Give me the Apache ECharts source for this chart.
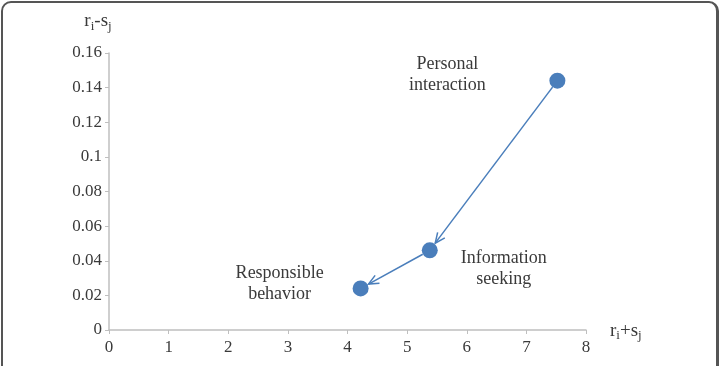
<!DOCTYPE html>
<html>
<head>
<meta charset="utf-8">
<script src="https://cdn.jsdelivr.net/npm/echarts@6/dist/echarts.min.js"></script>
<style>
  html, body { margin: 0; padding: 0; background: #fff; }
  #chart { position: absolute; left: 0; top: 0; width: 719px; height: 366px; }
  #frame {
    position: absolute; left: 1px; top: 1px; width: 713px; height: 390px;
    border: 2px solid #555; border-right-width: 3px; border-radius: 10px;
    pointer-events: none;
  }
</style>
</head>
<body>
<div id="chart"></div>
<div id="frame"></div>
<script>
// 数据
const names = ['Personal\ninteraction', 'Information\nseeking', 'Responsible\nbehavior'];
const xValues = [7.52, 5.38, 4.22];   // r_i + s_j
const yValues = [0.144, 0.046, 0.024]; // r_i - s_j
const xTicks = [0, 1, 2, 3, 4, 5, 6, 7, 8];
const yTicks = [0, 0.02, 0.04, 0.06, 0.08, 0.1, 0.12, 0.14, 0.16];

// 标签偏移 (布局)
const labelOffsets = [[-110, -6], [74, 18], [-81, -5]];

const FONT = '"Liberation Serif", "Times New Roman", serif';
const TEXT = '#3a3a3a';
const AXIS = '#bfbfbf';
const BLUE = '#4a7ebb';
const R = 8;

const subRich = {
  m: { fontFamily: FONT, fontSize: 19, color: TEXT, verticalAlign: 'top', lineHeight: 21 },
  s: { fontFamily: FONT, fontSize: 13, color: TEXT, verticalAlign: 'bottom', lineHeight: 21 }
};

// 箭头: 依次连接相邻点
const arrows = [];
for (let i = 0; i < xValues.length - 1; i++) {
  arrows.push([xValues[i], yValues[i], xValues[i + 1], yValues[i + 1]]);
}

const renderArrow = (params, api) => {
  const p1 = api.coord([api.value(0), api.value(1)]);
  const p2 = api.coord([api.value(2), api.value(3)]);
  const dx = p2[0] - p1[0], dy = p2[1] - p1[1];
  const len = Math.sqrt(dx * dx + dy * dy);
  const ux = dx / len, uy = dy / len;
  const s = [p1[0] + ux * R, p1[1] + uy * R];
  const e = [p2[0] - ux * (R + 1), p2[1] - uy * (R + 1)];
  const ang = Math.atan2(dy, dx);
  const head = 11, spread = 0.42;
  const h1 = [e[0] - head * Math.cos(ang - spread), e[1] - head * Math.sin(ang - spread)];
  const h2 = [e[0] - head * Math.cos(ang + spread), e[1] - head * Math.sin(ang + spread)];
  const style = { stroke: BLUE, lineWidth: 1.5, fill: null };
  return {
    type: 'group',
    children: [
      { type: 'line', shape: { x1: s[0], y1: s[1], x2: e[0], y2: e[1] }, style },
      { type: 'polyline', shape: { points: [h1, e, h2] }, style }
    ]
  };
};

const chart = echarts.init(document.getElementById('chart'));
chart.setOption({
  animation: false,
  grid: { left: 109, right: 133, top: 53, bottom: 36 },
  xAxis: {
    type: 'value', min: xTicks[0], max: xTicks[xTicks.length - 1], interval: 1,
    splitLine: { show: false },
    axisLine: { lineStyle: { color: AXIS, width: 1.5 } },
    axisTick: { show: true, length: 4, lineStyle: { color: AXIS } },
    axisLabel: { fontFamily: FONT, fontSize: 17, color: TEXT, margin: 9 },
    name: '{m|r}{s|i}{m|+s}{s|j}',
    nameLocation: 'end', nameGap: 24,
    nameTextStyle: { rich: subRich, padding: [4, 0, 0, 0] }
  },
  yAxis: {
    type: 'value', min: yTicks[0], max: yTicks[yTicks.length - 1], interval: 0.02,
    splitLine: { show: false },
    axisLine: { show: true, lineStyle: { color: AXIS, width: 1.5 } },
    axisTick: { show: true, length: 4, lineStyle: { color: AXIS } },
    axisLabel: { fontFamily: FONT, fontSize: 17, color: TEXT, margin: 7 },
    name: '{m|r}{s|i}{m|-s}{s|j}',
    nameLocation: 'end', nameGap: 20,
    nameTextStyle: { rich: subRich, padding: [0, 22, 0, 0] }
  },
  series: [
    {
      type: 'custom',
      renderItem: renderArrow,
      data: arrows,
      z: 2,
      silent: true
    },
    {
      type: 'scatter',
      symbol: 'circle',
      symbolSize: 16,
      z: 3,
      itemStyle: { color: '#4a7ebb', opacity: 1 },
      data: xValues.map((x, i) => ({
        value: [x, yValues[i]],
        name: names[i],
        label: {
          show: true,
          formatter: names[i],
          position: 'inside',
          offset: labelOffsets[i],
          fontFamily: FONT, fontSize: 18, color: TEXT, lineHeight: 21, align: 'center'
        }
      }))
    }
  ]
});
</script>
</body>
</html>
